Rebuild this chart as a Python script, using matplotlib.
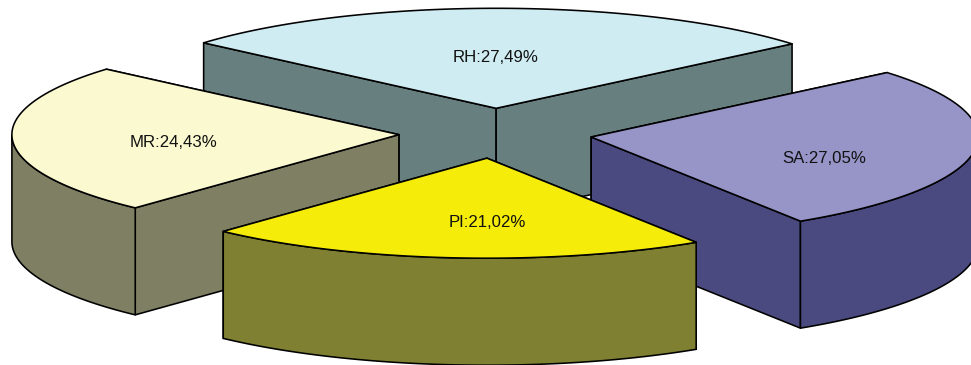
import numpy as np
import matplotlib
matplotlib.use("Agg")
import matplotlib.pyplot as plt
from matplotlib.patches import Polygon

# Slice data, clockwise from the back of the pie
categories = ["RH", "SA", "PI", "MR"]
shares = [27.49, 27.05, 21.02, 24.43]
explode = [0.25, 0.25, 0.25, 0.25]
top_colors = ["#CFECF3", "#9795C8", "#F5EC0A", "#FAF9CF"]
side_colors = ["#677F7F", "#4B4A80", "#7F8032", "#7F8063"]
label_offsets = [(-1, -51), (233.5, 21), (0, 64), (-225, 8)]
draw_order = ["RH", "MR", "SA", "PI"]

# Projected pie geometry, in pixels
RX, RY, DEPTH = 387.0, 100.0, 107.0
CX, CY = 495.5, 133.3
START_ANGLE = 139.1

fig = plt.figure(figsize=(9.71, 3.65), dpi=100)
ax = fig.add_axes([0, 0, 1, 1])
ax.set_xlim(0, 971)
ax.set_ylim(365, 0)
ax.axis("off")


def ellipse_points(apex, t_deg, drop=0.0):
    t = np.radians(t_deg)
    return np.column_stack([apex[0] + RX * np.cos(t),
                            apex[1] - RY * np.sin(t) + drop])


def add_poly(points, color):
    ax.add_patch(Polygon(points, closed=True, facecolor=color, edgecolor="black",
                         linewidth=1.15, joinstyle="round"))


# Each slice spans a parametric angle proportional to its share
total = sum(shares)
sweeps = [s / total * 360.0 for s in shares]
starts = START_ANGLE - np.concatenate([[0], np.cumsum(sweeps)[:-1]])

slices = {}
for i, name in enumerate(categories):
    t0 = starts[i]
    t1 = t0 - sweeps[i]
    mid = np.radians((t0 + t1) / 2)
    apex = (CX + explode[i] * RX * np.cos(mid), CY - explode[i] * RY * np.sin(mid))
    slices[name] = dict(t0=t0, t1=t1, apex=apex, top=top_colors[i],
                        side=side_colors[i], offset=label_offsets[i], share=shares[i])

for name in draw_order:
    s = slices[name]
    apex = np.array(s["apex"])
    down = np.array([0, DEPTH])

    # Radial cut faces, back one first
    ends = [ellipse_points(apex, [s["t0"]])[0], ellipse_points(apex, [s["t1"]])[0]]
    ends.sort(key=lambda p: p[1])
    for end in ends:
        add_poly([apex, end, end + down, apex + down], s["side"])

    # Curved outer wall: only the part of the rim facing the viewer
    rim = np.linspace(s["t0"], s["t1"], 300)
    front = rim[np.sin(np.radians(rim)) <= 0]
    if len(front) > 1:
        upper = ellipse_points(apex, front)
        lower = ellipse_points(apex, front, DEPTH)
        add_poly(np.vstack([upper, lower[::-1]]), s["side"])

    # Top surface
    add_poly(np.vstack([[apex], ellipse_points(apex, rim)]), s["top"])

    label = f"{name}:{s['share']:.2f}%".replace(".", ",")
    ax.text(apex[0] + s["offset"][0], apex[1] + s["offset"][1], label,
            ha="center", va="center", color="#111111",
            family="Liberation Sans", fontsize=12.1)

fig.savefig("out.png", dpi=100, facecolor="white")
